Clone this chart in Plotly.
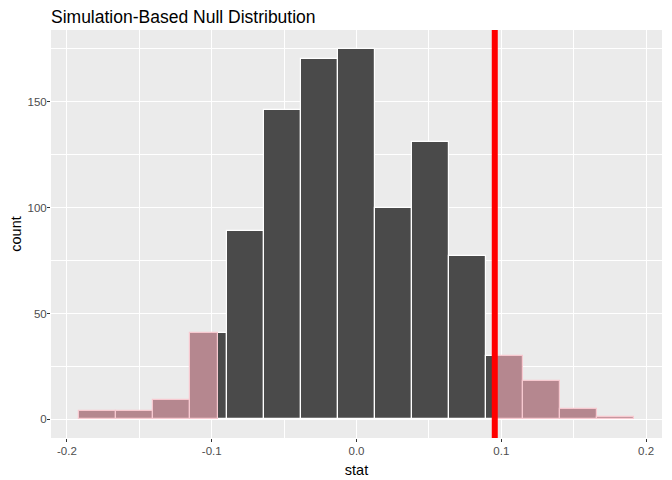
import numpy as np
import plotly.graph_objects as go

# Data
bin_lo = -0.1918
bin_hi = 0.1918
counts = [4, 4, 9, 41, 89, 146, 170, 175, 100, 131, 77, 30, 18, 5, 1]
obs_stat = 0.0955
x_ticks = [-0.2, -0.1, 0.0, 0.1, 0.2]
x_tick_labels = ["-0.2", "-0.1", "0.0", "0.1", "0.2"]
y_ticks = [0, 50, 100, 150]

edges = np.linspace(bin_lo, bin_hi, len(counts) + 1)

dark_x, dark_w, dark_y = [], [], []
pink_x, pink_w, pink_y = [], [], []
for i, c in enumerate(counts):
    a, b = edges[i], edges[i + 1]
    cuts = sorted([a, b] + [v for v in (-obs_stat, obs_stat) if a < v < b])
    for s, e in zip(cuts[:-1], cuts[1:]):
        mid = (s + e) / 2
        if abs(mid) >= obs_stat:
            pink_x.append(mid); pink_w.append(e - s); pink_y.append(c)
        else:
            dark_x.append(mid); dark_w.append(e - s); dark_y.append(c)

fig = go.Figure()
fig.add_trace(go.Bar(x=dark_x, y=dark_y, width=dark_w,
                     marker=dict(color="#4a4a4a", line=dict(color="white", width=1.2)),
                     showlegend=False))
fig.add_trace(go.Bar(x=pink_x, y=pink_y, width=pink_w,
                     marker=dict(color="#b5878f", line=dict(color="#f7c9d0", width=1.2)),
                     showlegend=False))

fig.add_shape(type="line", x0=obs_stat, x1=obs_stat, y0=0, y1=1, xref="x", yref="paper",
              line=dict(color="#ff0000", width=6))

fig.update_layout(
    width=664, height=472,
    margin=dict(l=43, r=10, t=22, b=42, autoexpand=False),
    paper_bgcolor="white",
    plot_bgcolor="#ebebeb",
    barmode="overlay",
    bargap=0,
    font=dict(family="Liberation Sans, Arial, sans-serif", color="#4d4d4d"),
    title=dict(text="Simulation-Based Null Distribution", x=0, xref="paper",
               xanchor="left", y=0.995, yanchor="top", yref="container",
               font=dict(size=17.5, color="black")),
)

fig.update_xaxes(
    automargin=False,
    range=[-0.211, 0.211], tickvals=x_ticks, ticktext=x_tick_labels,
    showgrid=True, gridcolor="white", gridwidth=1.1,
    minor=dict(dtick=0.05, tick0=-0.15, showgrid=True, gridcolor="white", gridwidth=0.5, ticks=""),
    zeroline=False, ticks="outside", ticklen=3, tickcolor="#333333", tickwidth=1,
    ticklabelstandoff=-1,
    tickfont=dict(size=11.5, color="#4d4d4d"),
    title=dict(text="stat", font=dict(size=14.5, color="black"), standoff=9),
    showline=False,
)
fig.update_yaxes(
    automargin=False,
    range=[-8.75, 183.75], tickvals=y_ticks,
    showgrid=True, gridcolor="white", gridwidth=1.1,
    minor=dict(dtick=25, tick0=25, showgrid=True, gridcolor="white", gridwidth=0.5, ticks=""),
    zeroline=False, ticks="outside", ticklen=3, tickcolor="#333333", tickwidth=1,
    ticklabelstandoff=-2,
    tickfont=dict(size=11.5, color="#4d4d4d"),
    title=dict(text="count", font=dict(size=14.5, color="black"), standoff=4),
    showline=False,
)

fig.write_html("out.html")
